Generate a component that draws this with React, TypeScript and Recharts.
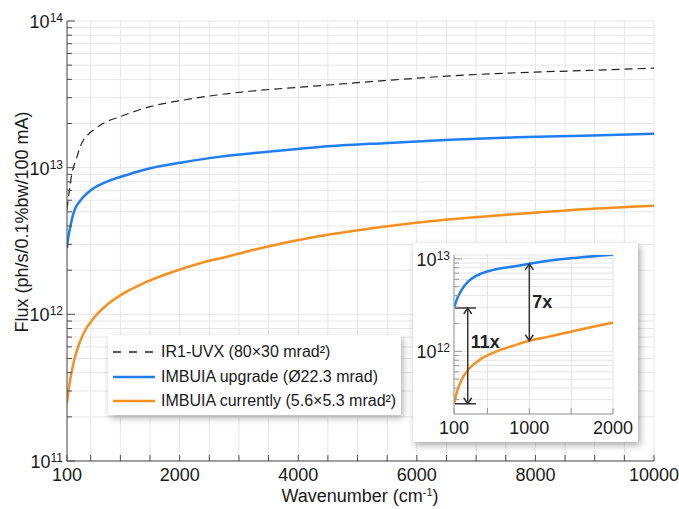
import React from "react";
import {
  LineChart,
  Line,
  XAxis,
  YAxis,
  CartesianGrid,
  ReferenceLine,
} from "recharts";

const FONT = "'Liberation Sans', Arial, Helvetica, sans-serif";

// main chart series (x: cm-1, y: flux)
const uvxX = [100, 140, 184, 226, 269, 320, 380, 460, 548, 717, 998, 1504, 2065, 2628, 3190, 4317, 5440, 6564, 7687, 8810, 10000];
const uvxY = [5.2e12, 7.0e12, 9.2e12, 1.06e13, 1.19e13, 1.38e13, 1.55e13, 1.69e13, 1.81e13, 2.01e13, 2.23e13, 2.61e13, 2.89e13, 3.13e13, 3.32e13, 3.61e13, 3.92e13, 4.22e13, 4.44e13, 4.59e13, 4.77e13];

const upgradeX = [100, 125, 156, 195, 240, 310, 380, 460, 548, 774, 1111, 1504, 2065, 2628, 3193, 4317, 5440, 6564, 7687, 8810, 10000];
const upgradeY = [2.83e12, 3.4e12, 3.96e12, 4.65e12, 5.29e12, 5.85e12, 6.34e12, 6.8e12, 7.24e12, 8.03e12, 8.92e12, 9.9e12, 1.09e13, 1.18e13, 1.25e13, 1.38e13, 1.47e13, 1.55e13, 1.61e13, 1.65e13, 1.7e13];

const currentX = [100, 127, 184, 269, 380, 548, 774, 1054, 1391, 1841, 2347, 2797, 3359, 4317, 5440, 6564, 7687, 8810, 10000];
const currentY = [2.48e11, 3.05e11, 4.18e11, 5.71e11, 7.43e11, 9.4e11, 1.16e12, 1.39e12, 1.63e12, 1.92e12, 2.23e12, 2.47e12, 2.82e12, 3.39e12, 3.96e12, 4.45e12, 4.83e12, 5.2e12, 5.5e12];

// inset series (x 100..2000)
const insetUpX = [100, 132, 192, 271, 391, 571, 810, 998, 1249, 1569, 2000];
const insetUpY = [2.94e12, 3.61e12, 4.63e12, 5.69e12, 6.72e12, 7.6e12, 8.26e12, 8.83e12, 9.59e12, 1.03e13, 1.11e13];
const insetCurX = [100, 132, 192, 271, 411, 611, 810, 998, 1249, 1569, 2000];
const insetCurY = [2.71e11, 3.56e11, 4.95e11, 6.35e11, 8.13e11, 1.0e12, 1.15e12, 1.3e12, 1.45e12, 1.69e12, 2.05e12];

// ticks
const mainXTicks = [100, 500, 1000, 1500, 2000, 2500, 3000, 3500, 4000, 4500, 5000, 5500, 6000, 6500, 7000, 7500, 8000, 8500, 9000, 9500, 10000];
const mainXLabels = [100, 2000, 4000, 6000, 8000, 10000];
const mantissas = [1, 2, 3, 4, 5, 6, 7, 8, 9];
const mainDecades = [11, 12, 13];
const mainYTicks = [...mainDecades.flatMap((d) => mantissas.map((m) => m * 10 ** d)), 1e14];
const majorY = [1e11, 1e12, 1e13, 1e14];

const insetXTicks = [100, 500, 1000, 1500, 2000];
const insetXLabels = [100, 1000, 2000];
const insetYTicks = [3e11, 4e11, 5e11, 6e11, 7e11, 8e11, 9e11, ...mantissas.map((m) => m * 1e12), 1e13];

// annotation arrows in the inset (data units)
const arrows = [
  { x: 1000, from: 8.83e12, to: 1.3e12, label: "7x" },
  { x: 264, from: 2.94e12, to: 2.71e11, label: "11x" },
];
const bars = [
  { from: 112, to: 363, y: 2.94e12 },
  { from: 112, to: 363, y: 2.71e11 },
];

const toPoints = (xs: number[], ys: number[]) => xs.map((x, i) => ({ x, y: ys[i] }));

const makeXTick = (labels: number[], stroke: string) => (props: any) => {
  const { x, y, payload } = props;
  const v = payload.value;
  return (
    <g>
      <line x1={x} x2={x} y1={y} y2={y - 6} stroke={stroke} />
      {labels.includes(v) && (
        <text x={x} y={y + 20} textAnchor="middle" fontSize={18} fontFamily={FONT} fill="#1a1a1a">
          {v}
        </text>
      )}
    </g>
  );
};

const makeYTick = (stroke: string) => (props: any) => {
  const { x, y, payload } = props;
  const v = payload.value;
  const major = majorY.includes(v);
  const e = Math.round(Math.log10(v));
  return (
    <g>
      <line x1={x} x2={x + (major ? 8 : 5)} y1={y} y2={y} stroke={stroke} />
      {major && (
        <text x={x - 4} y={y + 7} textAnchor="end" fontSize={18} fontFamily={FONT} fill="#1a1a1a">
          10
          <tspan dy={-6} fontSize={12}>
            {e}
          </tspan>
        </text>
      )}
    </g>
  );
};

const arrowShape = (label: string) => (props: any) => {
  const { x1, y1, x2, y2 } = props;
  const top = Math.min(y1, y2);
  const bot = Math.max(y1, y2);
  const mid = (top + bot) / 2;
  const c = "#333";
  return (
    <g>
      <line x1={x1} x2={x2} y1={top} y2={bot} stroke={c} strokeWidth={1.5} />
      <polyline points={`${x1 - 4},${top + 6} ${x1},${top} ${x1 + 4},${top + 6}`} fill="none" stroke={c} strokeWidth={1.5} />
      <polyline points={`${x1 - 4},${bot - 6} ${x1},${bot} ${x1 + 4},${bot - 6}`} fill="none" stroke={c} strokeWidth={1.5} />
      <text
        x={x1 + 3}
        y={label === "11x" ? mid - 8 : mid + 6}
        fontSize={18}
        fontWeight="bold"
        fontFamily={FONT}
        fill="#222"
      >
        {label}
      </text>
    </g>
  );
};

const legendItems = [
  { name: "IR1-UVX (80×30 mrad²)", color: "#222", dash: "8 8", width: 1.3 },
  { name: "IMBUIA upgrade (Ø22.3 mrad)", color: "#1e7ff5", dash: undefined, width: 2.5 },
  { name: "IMBUIA currently (5.6×5.3 mrad²)", color: "#f7901e", dash: undefined, width: 2.5 },
];

function Inset() {
  return (
    <div
      style={{
        position: "absolute",
        left: 413,
        top: 243,
        width: 225,
        height: 199,
        background: "#fff",
        boxShadow: "2px 3px 7px rgba(0,0,0,0.35)",
      }}
    >
      <LineChart width={225} height={199} margin={{ top: 12, right: 25, bottom: 0, left: 0 }}>
        <CartesianGrid stroke="#e4e4e4" />
        <XAxis
          dataKey="x"
          type="number"
          domain={[100, 2000]}
          ticks={insetXTicks}
          interval={0}
          height={28}
          tickSize={0}
          tickMargin={0}
          tickLine={false}
          axisLine={{ stroke: "#999" }}
          tick={makeXTick(insetXLabels, "#999")}
          allowDataOverflow
        />
        <XAxis xAxisId="top" orientation="top" type="number" domain={[100, 2000]} height={0} tick={false} tickLine={false} axisLine={{ stroke: "#999" }} />
        <YAxis
          dataKey="y"
          type="number"
          scale="log"
          domain={[2.1e11, 1.1e13]}
          ticks={insetYTicks}
          interval={0}
          width={41}
          tickSize={0}
          tickMargin={0}
          tickLine={false}
          axisLine={{ stroke: "#999" }}
          tick={makeYTick("#999")}
          allowDataOverflow
        />
        <YAxis yAxisId="right" orientation="right" type="number" domain={[0, 1]} width={0} tick={false} tickLine={false} axisLine={{ stroke: "#999" }} />
        <Line data={toPoints(insetUpX, insetUpY)} dataKey="y" type="monotone" stroke="#1e7ff5" strokeWidth={2.5} dot={false} isAnimationActive={false} />
        <Line data={toPoints(insetCurX, insetCurY)} dataKey="y" type="monotone" stroke="#f7901e" strokeWidth={2.5} dot={false} isAnimationActive={false} />
        {bars.map((b, i) => (
          <ReferenceLine
            key={`b${i}`}
            segment={[
              { x: b.from, y: b.y },
              { x: b.to, y: b.y },
            ]}
            stroke="#333"
            strokeWidth={1.5}
          />
        ))}
        {arrows.map((a, i) => (
          <ReferenceLine
            key={`a${i}`}
            segment={[
              { x: a.x, y: a.from },
              { x: a.x, y: a.to },
            ]}
            shape={arrowShape(a.label)}
          />
        ))}
      </LineChart>
    </div>
  );
}

export default function App() {
  return (
    <div style={{ position: "absolute", left: 0, top: 0, width: 679, height: 509, background: "#fff", fontFamily: FONT }}>
      <LineChart width={679} height={509} margin={{ top: 21, right: 25, bottom: 0, left: 0 }}>
        <CartesianGrid stroke="#e6e6e6" />
        <XAxis
          dataKey="x"
          type="number"
          domain={[100, 10000]}
          ticks={mainXTicks}
          interval={0}
          height={48}
          tickSize={0}
          tickMargin={0}
          tickLine={false}
          axisLine={{ stroke: "#4d4d4d" }}
          tick={makeXTick(mainXLabels, "#4d4d4d")}
          allowDataOverflow
          label={() => (
            <text x={360} y={502} textAnchor="middle" fontSize={18} fontFamily={FONT} fill="#1a1a1a">
              Wavenumber (cm
              <tspan dy={-6} fontSize={11}>-1</tspan>
              <tspan dy={6}>)</tspan>
            </text>
          )}
        />
        <XAxis xAxisId="top" orientation="top" type="number" domain={[100, 10000]} height={0} tick={false} tickLine={false} axisLine={{ stroke: "#4d4d4d" }} />
        <YAxis
          dataKey="y"
          type="number"
          scale="log"
          domain={[1e11, 1e14]}
          ticks={mainYTicks}
          interval={0}
          width={67}
          tickSize={0}
          tickMargin={0}
          tickLine={false}
          axisLine={{ stroke: "#4d4d4d" }}
          tick={makeYTick("#4d4d4d")}
          allowDataOverflow
          label={() => (
            <text transform="translate(28,222) rotate(-90)" textAnchor="middle" fontSize={18} fontFamily={FONT} fill="#1a1a1a">
              Flux (ph/s/0.1%bw/100 mA)
            </text>
          )}
        />
        <YAxis yAxisId="right" orientation="right" type="number" domain={[0, 1]} width={0} tick={false} tickLine={false} axisLine={{ stroke: "#4d4d4d" }} />
        <Line data={toPoints(uvxX, uvxY)} dataKey="y" type="monotone" stroke="#222" strokeWidth={1.2} strokeDasharray="8 5" dot={false} isAnimationActive={false} />
        <Line data={toPoints(upgradeX, upgradeY)} dataKey="y" type="monotone" stroke="#1e7ff5" strokeWidth={2.5} dot={false} isAnimationActive={false} />
        <Line data={toPoints(currentX, currentY)} dataKey="y" type="monotone" stroke="#f7901e" strokeWidth={2.5} dot={false} isAnimationActive={false} />
      </LineChart>

      <div
        style={{
          position: "absolute",
          left: 108,
          top: 335,
          width: 293,
          height: 80,
          background: "#fff",
          boxShadow: "2px 3px 7px rgba(0,0,0,0.3)",
          boxSizing: "border-box",
          paddingTop: 5,
        }}
      >
        {legendItems.map((it) => (
          <div key={it.name} style={{ display: "flex", alignItems: "center", height: 24.5 }}>
            <svg width={53} height={10} style={{ flex: "none" }}>
              <line x1={5} x2={47} y1={5} y2={5} stroke={it.color} strokeWidth={it.width} strokeDasharray={it.dash} />
            </svg>
            <span style={{ fontSize: 16, color: "#1a1a1a", whiteSpace: "nowrap" }}>{it.name}</span>
          </div>
        ))}
      </div>

      <Inset />
    </div>
  );
}
